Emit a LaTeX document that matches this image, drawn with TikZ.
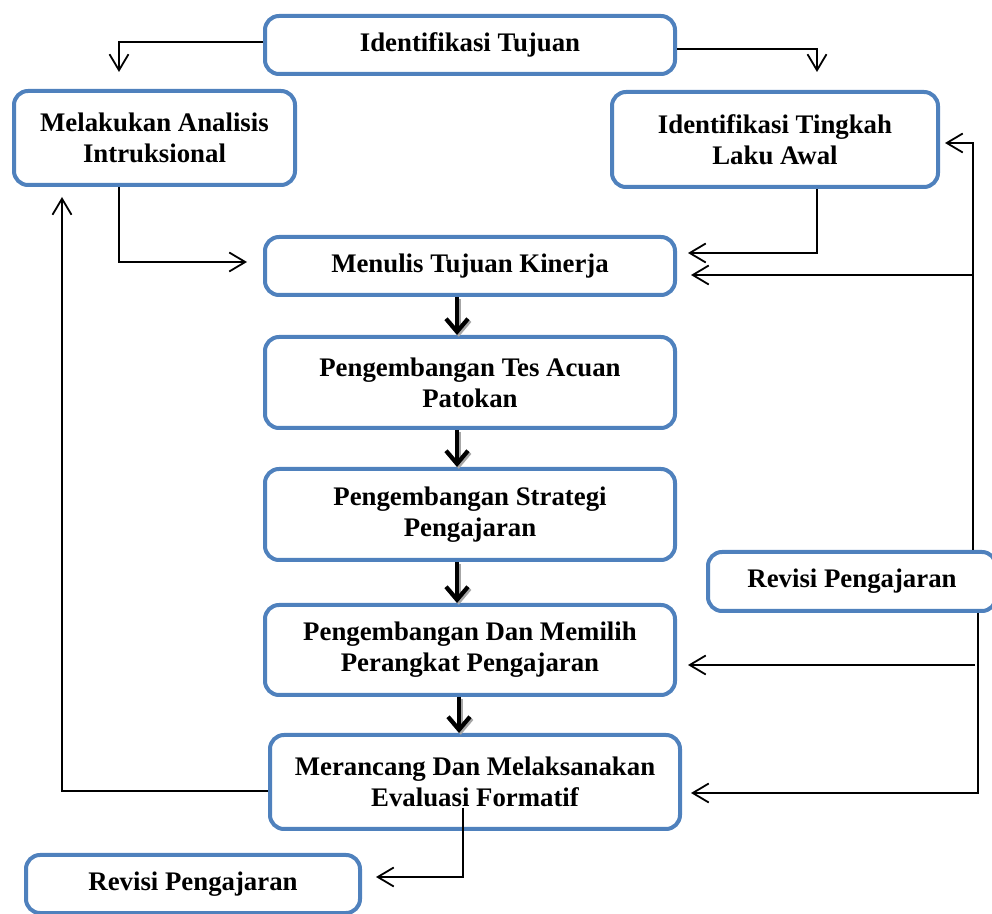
\documentclass[tikz,border=0pt]{standalone}
\usepackage{fontspec}
\setmainfont{Liberation Serif}
\usetikzlibrary{arrows.meta}
\definecolor{boxblue}{RGB}{79,129,189}
\begin{document}
\begin{tikzpicture}[x=0.5pt, y=-0.5pt,
  box/.style={draw=boxblue, line width=2pt, rounded corners=7pt, fill=white, align=center,
    font=\fontsize{13.4}{15.5}\selectfont\bfseries, inner sep=2pt},
  thinarrow/.style={line width=0.9pt, -{Straight Barb[length=8pt,width=9.5pt,line width=0.9pt]}},
  thickarrow/.style={line width=2.3pt, -{Straight Barb[length=6.5pt,width=11pt,line width=2.1pt]},
    preaction={draw=gray!70, line width=2.3pt, transform canvas={shift={(0.9pt,-0.9pt)}}}}]
\useasboundingbox (0,0) rectangle (992,914);
% boxes
\node[box, minimum width=205pt, minimum height=29pt] (tujuan) at (470,45) {Identifikasi Tujuan};
\node[box, minimum width=140.5pt, minimum height=47pt] (analisis) at (154.5,138) {Melakukan Analisis\\Intruksional};
\node[box, minimum width=163pt, minimum height=47.5pt] (tingkah) at (775,139.5) {Identifikasi Tingkah\\Laku Awal};
\node[box, minimum width=205pt, minimum height=29pt] (kinerja) at (470,266) {Menulis Tujuan Kinerja};
\node[box, minimum width=205pt, minimum height=45.5pt] (tes) at (470,382.5) {Pengembangan Tes Acuan\\Patokan};
\node[box, minimum width=205pt, minimum height=45.5pt] (strategi) at (470,514.5) {Pengembangan Strategi\\Pengajaran};
\node[box, minimum width=144pt, minimum height=29.5pt] (revisi1) at (852,581.5) {Revisi Pengajaran};
\node[box, minimum width=205pt, minimum height=45pt] (perangkat) at (470,650) {Pengembangan Dan Memilih\\Perangkat Pengajaran};
\node[box, minimum width=205pt, minimum height=47pt] (evaluasi) at (475,782) {Merancang Dan Melaksanakan\\Evaluasi Formatif};
\node[box, minimum width=167pt, minimum height=29pt] (revisi2) at (193,884) {Revisi Pengajaran};
% free ends
\coordinate (a1) at (119,72);
\coordinate (a2) at (817,72);
\coordinate (r1) at (973,143);
\coordinate (r2) at (973,275);
\coordinate (r3) at (978,793);
\coordinate (r4) at (975,665);
\coordinate (l1) at (62,197);
\coordinate (e1) at (463,808);
\coordinate (e2) at (376,877);
\coordinate (k) at (457,0);
% thin connectors
\draw[thinarrow] ([yshift=1.5pt]tujuan.west) -| (a1);
\draw[thinarrow] ([yshift=-2pt]tujuan.east) -| (a2);
\draw[thinarrow] (analisis.south -| a1) |- ([xshift=-8pt,yshift=2pt]kinerja.west);
\draw[thinarrow] (tingkah.south -| a2) |- ([xshift=5.5pt,yshift=6.5pt]kinerja.east);
\draw[thinarrow] (revisi1.north -| r1) |- ([xshift=2.5pt]tingkah.east |- r1);
\draw[thinarrow] (r2) -- ([xshift=7pt]kinerja.east |- r2);
\draw[thinarrow] (revisi1.south -| r3) |- ([xshift=4.5pt]evaluasi.east |- r3);
\draw[thinarrow] (r4) -- ([xshift=5.5pt]perangkat.east |- r4);
\draw[thinarrow] ([yshift=-4.5pt]evaluasi.west) -| (l1);
\draw[thinarrow] (e1) |- (e2);
% main flow
\draw[thickarrow] (kinerja.south -| k) -- (tes.north -| k);
\draw[thickarrow] (tes.south -| k) -- (strategi.north -| k);
\draw[thickarrow] (strategi.south -| k) -- (perangkat.north -| k);
\draw[thickarrow] ([xshift=1pt]perangkat.south -| k) -- ([xshift=1pt]evaluasi.north -| k);
\end{tikzpicture}
\end{document}
